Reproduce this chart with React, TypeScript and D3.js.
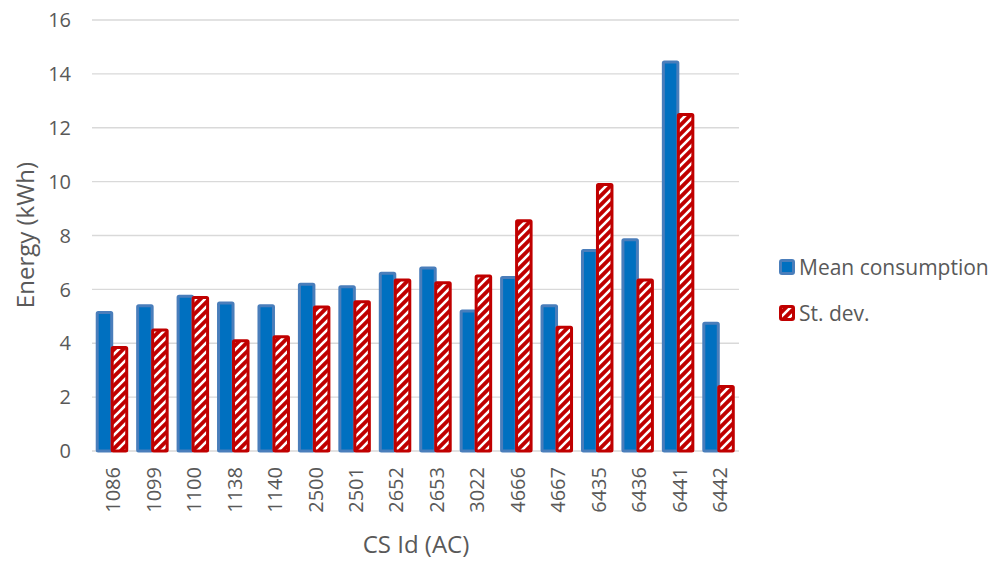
import React from 'react'
import * as d3 from 'd3'

const ids = ['1086', '1099', '1100', '1138', '1140', '2500', '2501', '2652', '2653', '3022', '4666', '4667', '6435', '6436', '6441', '6442']
const meanConsumption = [5.2, 5.45, 5.8, 5.55, 5.45, 6.25, 6.15, 6.65, 6.85, 5.25, 6.5, 5.45, 7.5, 7.9, 14.5, 4.8]
const stDev = [3.9, 4.55, 5.75, 4.15, 4.3, 5.4, 5.6, 6.4, 6.3, 6.55, 8.6, 4.65, 9.95, 6.4, 12.55, 2.45]
const yTicks = [0, 2, 4, 6, 8, 10, 12, 14, 16]

const font = '"Open Sans", "Liberation Sans", sans-serif'
const grey = '#595959'
const blueFill = '#0070c0'
const blueStroke = '#4a7ebb'
const red = '#c00000'

export default function App() {
  const x = d3.scaleBand<string>().domain(ids).range([92, 739])
  const y = d3.scaleLinear().domain([0, 16]).range([451, 20])
  const sw = 3

  const bar = (cx: number, left: number, v: number) => {
    const top = y(v)
    return { x: cx + left + sw / 2, y: top + sw / 2, w: 17.5 - sw, h: y(0) - top - sw / 2 }
  }

  return (
    <svg width={1000} height={562} style={{ position: 'absolute', left: 0, top: 0, background: '#fff' }}>
      <defs>
        <pattern id="hatch" patternUnits="userSpaceOnUse" width={9} height={9}>
          <rect width={9} height={9} fill={red} />
          <path d="M-2,2 L2,-2 M0,9 L9,0 M7,11 L11,7" stroke="#fff" strokeWidth={2.6} />
        </pattern>
      </defs>

      {/* grid */}
      {yTicks.map(t => (
        <g key={t}>
          <line x1={92} x2={739} y1={y(t)} y2={y(t)} stroke="#d9d9d9" strokeWidth={1.3} />
          <text x={71} y={y(t)} dy="0.36em" textAnchor="end" fontFamily={font} fontSize={20} fill={grey}>{t}</text>
        </g>
      ))}

      {/* bars */}
      {ids.map((id, i) => {
        const cx = x(id)! + x.bandwidth() / 2
        const b = bar(cx, -16.5, meanConsumption[i])
        const r = bar(cx, -1.5, stDev[i])
        return (
          <g key={id}>
            <rect x={b.x} y={b.y} width={b.w} height={b.h} fill={blueFill} stroke={blueStroke} strokeWidth={sw} rx={1} />
            <rect x={r.x} y={r.y} width={r.w} height={r.h} fill="url(#hatch)" stroke={red} strokeWidth={sw} rx={1} />
            <text transform={`translate(${cx + 1},467) rotate(-90)`} dy="0.36em" textAnchor="end" fontFamily={font} fontSize={20} fill={grey}>{id}</text>
          </g>
        )
      })}

      {/* axis titles */}
      <text transform="translate(25,235) rotate(-90)" dy="0.36em" textAnchor="middle" fontFamily={font} fontSize={24} fill={grey}>Energy (kWh)</text>
      <text x={416} y={544} dy="0.36em" textAnchor="middle" fontFamily={font} fontSize={24} fill={grey}>CS Id (AC)</text>

      {/* legend */}
      <rect x={780.5} y={260.5} width={13} height={13} fill={blueFill} stroke={blueStroke} strokeWidth={3} rx={1.5} />
      <text x={799} y={267} dy="0.36em" fontFamily={font} fontSize={21} fill={grey}>Mean consumption</text>
      <rect x={780.5} y={306.5} width={13} height={13} fill="url(#hatch)" stroke={red} strokeWidth={3} rx={1.5} />
      <text x={799} y={313} dy="0.36em" fontFamily={font} fontSize={21} fill={grey}>St. dev.</text>
    </svg>
  )
}
